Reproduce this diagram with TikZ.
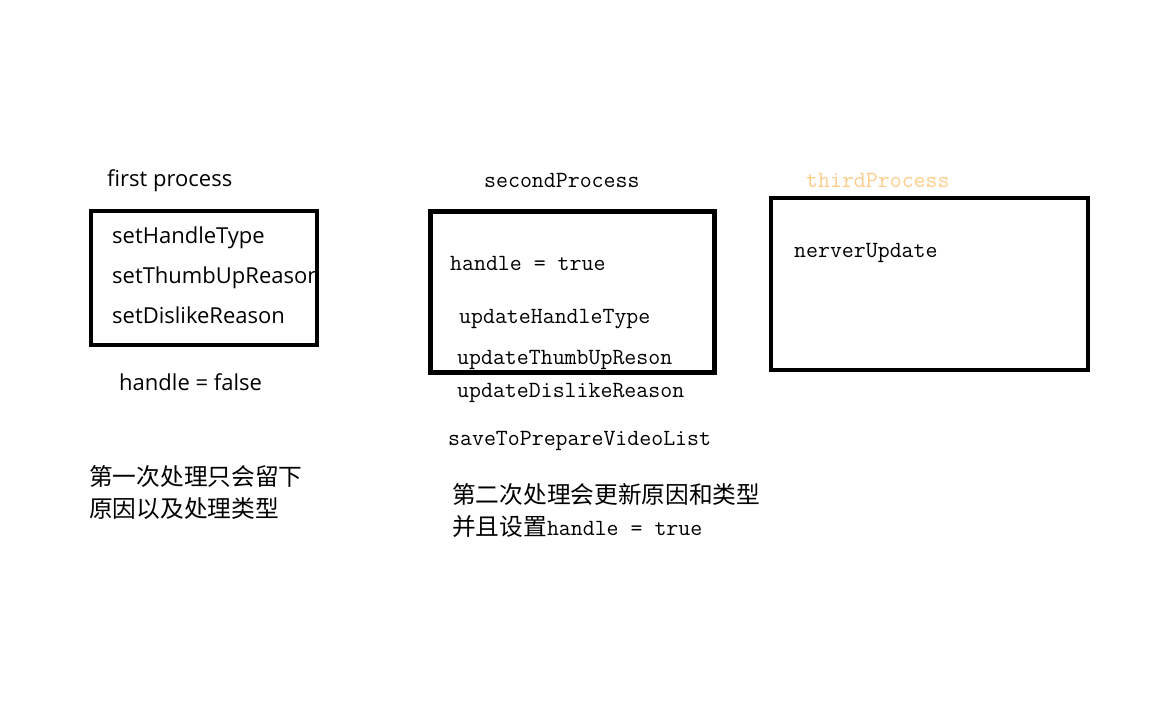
\documentclass[tikz,border=0pt]{standalone}
\usepackage{fontspec}
\setmainfont{Open Sans}
\newfontfamily\monof{Latin Modern Mono}
\newfontfamily\cjk{Noto Sans CJK SC}
\definecolor{lightorange}{RGB}{255,204,140}
\begin{document}
\begin{tikzpicture}[x=1pt,y=-1pt,
  box/.style={draw=black, line width=4.5pt},
  sanslbl/.style={anchor=base west, inner sep=0pt, font=\fontsize{22}{26}\selectfont},
  monolbl/.style={anchor=base west, inner sep=0pt, font=\monof\fontsize{23.2}{26}\selectfont},
  cjklbl/.style={anchor=base west, inner sep=0pt, font=\cjk\fontsize{23.7}{32}\selectfont}]
\useasboundingbox[fill=white] (0,0) rectangle (1152,720);
% boxes
\draw[box] (91,211) rectangle (317,345);
\draw[box] (430.5,211.5) rectangle (714.5,372.5);
\draw[box] (771,198) rectangle (1088,370);
% first process
\node[sanslbl] (t1) at (107,186) {first process};
\node[sanslbl] (a1) at (112,243) {setHandleType};
\node[sanslbl] (a2) at (112,283) {setThumbUpReason};
\node[sanslbl] (a3) at (112,323) {setDislikeReason};
\node[sanslbl] (a4) at (119,390) {handle = false};
\node[cjklbl] (c1) at (89,485) {第一次处理只会留下};
\node[cjklbl] (c2) at (89,517) {原因以及处理类型};
% second process
\node[monolbl] (t2) at (484,187) {secondProcess};
\node[monolbl] (b1) at (450,270) {handle = true};
\node[monolbl] (b2) at (459,323) {updateHandleType};
\node[monolbl] (b3) at (457,364) {updateThumbUpReson};
\node[monolbl] (b4) at (457,397) {updateDislikeReason};
\node[monolbl] (b5) at (448,445) {saveToPrepareVideoList};
\node[cjklbl] (d1) at (452,503) {第二次处理会更新原因和类型};
\node[anchor=base west, inner sep=0pt] (d2) at (452,535) {{\cjk\fontsize{23.7}{32}\selectfont 并且设置}{\monof\fontsize{23.2}{26}\selectfont handle = true}};
% third process
\node[monolbl, text=lightorange] (t3) at (806,187) {thirdProcess};
\node[monolbl] (e1) at (794,257) {nerverUpdate};
\end{tikzpicture}
\end{document}
